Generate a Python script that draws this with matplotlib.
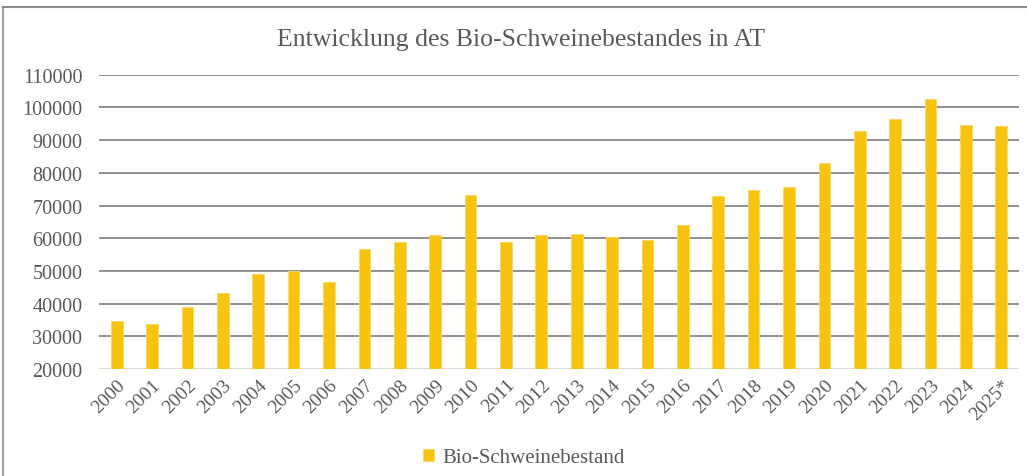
import matplotlib
matplotlib.use("Agg")
import matplotlib.pyplot as plt
from matplotlib.lines import Line2D

years = ["2000", "2001", "2002", "2003", "2004", "2005", "2006", "2007", "2008",
         "2009", "2010", "2011", "2012", "2013", "2014", "2015", "2016", "2017",
         "2018", "2019", "2020", "2021", "2022", "2023", "2024", "2025*"]
values = [34800, 33800, 39000, 43100, 49100, 49900, 46500, 56600, 58700,
          61000, 73300, 58800, 61000, 61200, 60400, 59400, 64100, 72900,
          74600, 75700, 83100, 92800, 96500, 102500, 94600, 94300]
yticks = list(range(20000, 110001, 10000))
series_name = "Bio-Schweinebestand"
title = "Entwicklung des Bio-Schweinebestandes in AT"

plt.rcParams['font.family'] = ['Liberation Serif', 'DejaVu Serif']
txt = '#595959'
bar_color = '#F6C40E'

fig = plt.figure(figsize=(10.27, 4.77), dpi=100)
ax = fig.add_axes([99 / 1027, 1 - 370 / 477, (1019 - 99) / 1027, (370 - 75.7) / 477])

x = list(range(len(years)))
ax.bar(x, [v - 20000 for v in values], bottom=20000, width=0.33, color=bar_color,
       edgecolor='#F9D85E', linewidth=0.6, zorder=3, label=series_name)

ax.set_ylim(20000, 110000)
ax.set_xlim(-0.5, len(years) - 0.5)
ax.set_yticks(yticks)
ax.set_yticklabels([str(t) for t in yticks])
for t in yticks[1:]:
    ax.axhline(t, color='#8e9196', linewidth=1.4, zorder=1)
ax.axhline(20000, color='#d9d9d9', linewidth=1.4, zorder=2)

for s in ax.spines.values():
    s.set_visible(False)
ax.tick_params(axis='y', length=0, pad=12, labelsize=14.5, labelcolor=txt)
ax.tick_params(axis='x', length=0, pad=5, labelsize=14, labelcolor=txt)
ax.set_xticks(x)
ax.set_xticklabels(years, rotation=45, ha='right', rotation_mode='anchor')

fig.text(0.507, 1 - 40 / 477, title, ha='center', va='center', fontsize=18.5, color=txt)

leg = fig.legend(loc='center', bbox_to_anchor=(0.51, 1 - 459 / 477), frameon=False,
                 fontsize=15, handlelength=0.55, handleheight=0.55, handletextpad=0.4)
for t in leg.get_texts():
    t.set_color(txt)

fig.add_artist(Line2D([3 / 1027, 1], [1 - 8 / 477, 1 - 8 / 477], transform=fig.transFigure,
                      color='#8c8c8c', linewidth=1.5))
fig.add_artist(Line2D([3 / 1027, 3 / 1027], [0, 1 - 8 / 477], transform=fig.transFigure,
                      color='#8c8c8c', linewidth=1.2))

fig.savefig("out.png", dpi=100)
